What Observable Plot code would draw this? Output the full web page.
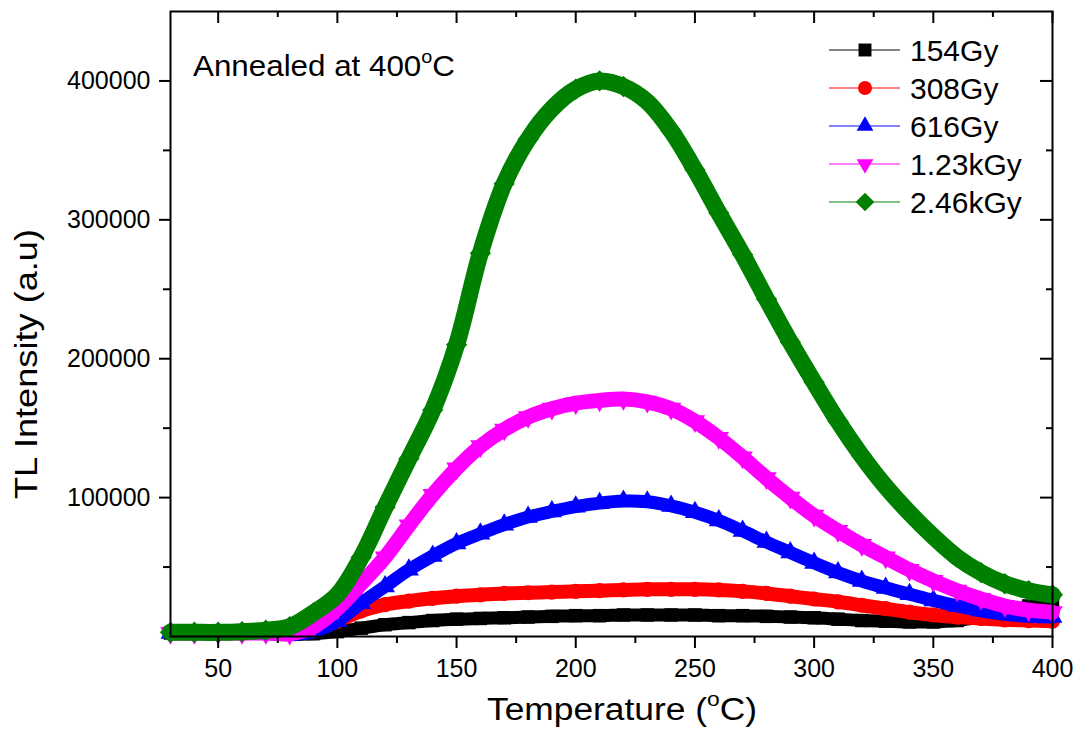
<!DOCTYPE html>
<html>
<head>
<meta charset="utf-8">
<script src="https://cdn.jsdelivr.net/npm/d3@7"></script>
<script src="https://cdn.jsdelivr.net/npm/@observablehq/plot@0.6"></script>
<style>
  body { margin: 0; background: #fff; }
  #wrap { position: relative; width: 1083px; height: 733px; font-family: "Liberation Sans", Arial, sans-serif; }
  #overlay { position: absolute; left: 0; top: 0; pointer-events: none; }
</style>
</head>
<body>
<div id="wrap"></div>
<script>
// ---- data ----
const temperature = [30,40,50,60,70,80,90,100,110,120,130,140,150,160,170,180,190,200,210,220,230,240,250,260,270,280,290,300,310,320,330,340,350,360,370,380,390,400];
const tl154Gy  = [2500,2500,2500,2500,2500,1500,2000,3500,6000,8500,10000,11500,12500,13000,13500,14000,14500,15000,15000,15500,15500,15500,15500,15000,15000,14500,14000,13500,12500,11500,11000,10500,10500,11500,14000,17000,22000,26000];
const tl308Gy  = [2500,2500,2500,2500,2500,2500,4500,11000,18500,23000,25500,27500,29000,30000,31000,31500,32000,32500,33000,33500,34000,34000,34000,33500,32500,31000,29000,27000,25000,22500,20000,17500,15500,14000,13000,12000,11500,11000];
const tl616Gy  = [2500,2500,2500,2500,2500,1500,3500,11000,24000,36000,48000,58000,67000,74000,80500,86000,90000,93500,96000,97500,97000,94000,89500,83500,76000,68000,60500,53000,46000,40000,35000,30500,26000,22000,18500,16000,14500,14000];
const tl123kGy = [2500,2500,2500,2500,2500,2000,7000,20000,38000,57000,80000,102000,121000,137000,149000,158000,164000,168000,170000,171000,169000,164000,155000,143000,129000,114000,100000,87000,76000,66000,57000,48000,40000,33000,27000,22000,19000,17500];
const tl246kGy = [3000,3000,3000,3500,4500,7000,17000,30000,57000,93000,128000,163000,210000,276000,326000,358000,380000,394000,400000,396000,385000,364000,336000,305000,275000,243000,212000,183000,155000,130000,108000,89000,72000,57000,46000,38000,33000,30000];

const seriesNames = ["154Gy","308Gy","616Gy","1.23kGy","2.46kGy"];
const seriesValues = [tl154Gy, tl308Gy, tl616Gy, tl123kGy, tl246kGy];
const seriesColors = ["#000000","#ff0000","#0000ff","#ff00ff","#008000"];

const xMajorTicks = [50,100,150,200,250,300,350,400];
const xMinorTicks = [75,125,175,225,275,325,375];
const yMajorTicks = [100000,200000,300000,400000];
const yMinorTicks = [50000,150000,250000,350000];

// ---- symbols ----
const sqrt3 = Math.sqrt(3);
const triangleDown = {
  draw(context, size) {
    const y = -Math.sqrt(size / (sqrt3 * 3));
    context.moveTo(0, -y * 2);
    context.lineTo(-sqrt3 * y, y);
    context.lineTo(sqrt3 * y, y);
    context.closePath();
  }
};
const seriesSymbols = ["square", "circle", "triangle", triangleDown, "diamond2"];
const d3Symbols = [d3.symbolSquare, d3.symbolCircle, d3.symbolTriangle, triangleDown, d3.symbolDiamond2];
const symbolR = [7.3, 7, 6.2, 6.2, 8.4];
const pointR = [7.6, 7.6, 7.4, 7.6, 9.6];
const bandWidth = [13, 14, 13, 15, 17];

// ---- table ----
const rows = [];
seriesNames.forEach((name, i) => {
  temperature.forEach((t, j) => rows.push({series: name, idx: i, t, v: seriesValues[i][j]}));
});

const W = 1083, H = 733;
const mL = 170, mR = 31, mT = 11, mB = 97;
const innerW = W - mL - mR, innerH = H - mT - mB;

const marks = [];
seriesNames.forEach((name, i) => {
  const data = rows.filter(d => d.series === name);
  marks.push(Plot.line(data, {x: "t", y: "v", stroke: seriesColors[i], strokeWidth: bandWidth[i], curve: "catmull-rom", strokeLinejoin: "round", strokeLinecap: "round"}));
  marks.push(Plot.dot(data, {x: "t", y: "v", fill: seriesColors[i], stroke: "none", symbol: () => seriesSymbols[i], r: pointR[i]}));
});

const chart = Plot.plot({
  width: W, height: H,
  marginLeft: mL, marginRight: mR, marginTop: mT, marginBottom: mB,
  style: {fontFamily: '"Liberation Sans", Arial, sans-serif', fontSize: "25px", color: "#000", background: "#fff", overflow: "visible"},
  x: {domain: [30, 400]},
  y: {domain: [0, 450000]},
  symbol: {type: "identity"},
  marks: [
    ...marks,
    Plot.frame({stroke: "#000", strokeWidth: 2}),
    Plot.axisX({ticks: xMajorTicks, tickSize: 12, tickPadding: 11, tickFormat: d => String(d), label: null, strokeWidth: 2, fontSize: 25}),
    Plot.axisX({ticks: xMinorTicks, tickSize: 7, text: null, label: null, strokeWidth: 2}),
    Plot.axisY({ticks: yMajorTicks, tickSize: 11, tickPadding: 9, tickFormat: d => String(d), label: null, strokeWidth: 2, fontSize: 25}),
    Plot.axisY({ticks: yMinorTicks, tickSize: 7, text: null, label: null, strokeWidth: 2}),
    Plot.tickX(xMajorTicks, {insetBottom: innerH - 12, strokeWidth: 2}),
    Plot.tickX(xMinorTicks, {insetBottom: innerH - 6, strokeWidth: 2}),
    Plot.tickY(yMajorTicks, {insetLeft: innerW - 12, strokeWidth: 2}),
    Plot.tickY(yMinorTicks, {insetLeft: innerW - 6, strokeWidth: 2})
  ]
});

const wrap = document.getElementById("wrap");
wrap.appendChild(chart);

// ---- overlay: annotation, axis titles, legend ----
const ov = d3.select(wrap).append("svg")
  .attr("id", "overlay")
  .attr("width", W).attr("height", H)
  .style("font-family", '"Liberation Sans", Arial, sans-serif');

// annotation
const ann = ov.append("text").attr("x", 193).attr("y", 76).attr("font-size", 30).attr("fill", "#000")
  .attr("textLength", 262).attr("lengthAdjust", "spacingAndGlyphs");
ann.append("tspan").text("Annealed at 400");
ann.append("tspan").attr("font-size", 19).attr("dy", -13).text("o");
ann.append("tspan").attr("dy", 13).text("C");

// x title
const xt = ov.append("text").attr("x", 487).attr("y", 720).attr("font-size", 31).attr("fill", "#000")
  .attr("textLength", 270).attr("lengthAdjust", "spacingAndGlyphs");
xt.append("tspan").text("Temperature (");
xt.append("tspan").attr("font-size", 20).attr("dy", -14).text("o");
xt.append("tspan").attr("dy", 14).text("C)");

// y title
ov.append("text")
  .attr("transform", "translate(37,364) rotate(-90)")
  .attr("text-anchor", "middle")
  .attr("font-size", 31).attr("fill", "#000")
  .attr("textLength", 270).attr("lengthAdjust", "spacingAndGlyphs")
  .text("TL Intensity (a.u)");

// legend
const legendRowY = [50, 88, 126, 164, 202];
seriesNames.forEach((name, i) => {
  const g = ov.append("g").attr("transform", `translate(0,${legendRowY[i]})`);
  g.append("line").attr("x1", 829).attr("x2", 900).attr("y1", 0).attr("y2", 0)
    .attr("stroke", seriesColors[i]).attr("stroke-width", 1.6).attr("stroke-opacity", 0.65);
  g.append("path")
    .attr("transform", "translate(865,0)")
    .attr("d", d3.symbol(d3Symbols[i], Math.PI * symbolR[i] * symbolR[i])())
    .attr("fill", seriesColors[i]);
  g.append("text").attr("x", 910).attr("y", 11).attr("font-size", 30).attr("fill", "#000").text(name);
});
</script>
</body>
</html>
